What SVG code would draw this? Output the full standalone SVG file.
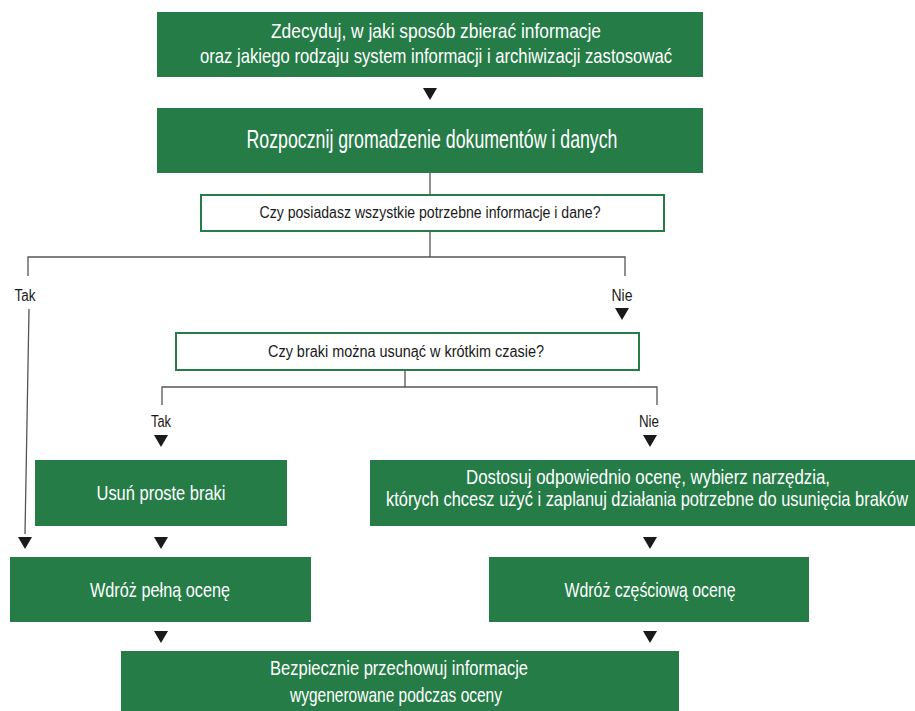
<svg xmlns="http://www.w3.org/2000/svg" width="915" height="711" viewBox="0 0 915 711">
<style>
.box{fill:#257c47}
.q{fill:#fff;stroke:#257c47;stroke-width:2}
.t{font-family:"Liberation Sans","DejaVu Sans",sans-serif;fill:#fff;text-anchor:middle}
.d{font-family:"Liberation Sans","DejaVu Sans",sans-serif;fill:#1a1a1a;text-anchor:middle}
.ln{stroke:#555;stroke-width:1.3;fill:none}
.ar{fill:#1a1a1a}
</style>
<defs>
<path id="tri" d="M-7,0 L7,0 L0,12 Z"/>
</defs>
<g id="n1"><rect class="box" x="157" y="12" width="546" height="65"/>
<text class="t" font-size="21" x="436" y="38" textLength="330" lengthAdjust="spacingAndGlyphs">Zdecyduj, w jaki sposób zbierać informacje</text>
<text class="t" font-size="21" x="436" y="63" textLength="472" lengthAdjust="spacingAndGlyphs">oraz jakiego rodzaju system informacji i archiwizacji zastosować</text></g>
<g id="n2"><rect class="box" x="157" y="108" width="546" height="65"/>
<text class="t" font-size="25" x="432" y="148" textLength="371" lengthAdjust="spacingAndGlyphs">Rozpocznij gromadzenie dokumentów i danych</text></g>
<g id="n3"><rect class="q" x="201" y="195" width="463" height="36"/>
<text class="d" font-size="16" x="430" y="218" textLength="341" lengthAdjust="spacingAndGlyphs">Czy posiadasz wszystkie potrzebne informacje i dane?</text></g>
<g id="n4"><rect class="q" x="176" y="333" width="463" height="37"/>
<text class="d" font-size="16" x="406" y="357" textLength="276" lengthAdjust="spacingAndGlyphs">Czy braki można usunąć w krótkim czasie?</text></g>
<g id="n5"><rect class="box" x="35" y="460" width="252" height="66"/>
<text class="t" font-size="21" x="161" y="500" textLength="129" lengthAdjust="spacingAndGlyphs">Usuń proste braki</text></g>
<g id="n6"><rect class="box" x="370" y="460" width="545" height="66"/>
<text class="t" font-size="21" x="648" y="484" textLength="364" lengthAdjust="spacingAndGlyphs">Dostosuj odpowiednio ocenę, wybierz narzędzia,</text>
<text class="t" font-size="21" x="647" y="506" textLength="522" lengthAdjust="spacingAndGlyphs">których chcesz użyć i zaplanuj działania potrzebne do usunięcia braków</text></g>
<g id="n7"><rect class="box" x="10" y="557" width="301" height="65"/>
<text class="t" font-size="21" x="160" y="597" textLength="140" lengthAdjust="spacingAndGlyphs">Wdróż pełną ocenę</text></g>
<g id="n8"><rect class="box" x="489" y="557" width="320" height="65"/>
<text class="t" font-size="21" x="650" y="597" textLength="171" lengthAdjust="spacingAndGlyphs">Wdróż częściową ocenę</text></g>
<g id="n9"><rect class="box" x="121" y="651" width="558" height="60"/>
<text class="t" font-size="21" x="399" y="675" textLength="258" lengthAdjust="spacingAndGlyphs">Bezpiecznie przechowuj informacje</text>
<text class="t" font-size="21" x="396" y="702" textLength="212" lengthAdjust="spacingAndGlyphs">wygenerowane podczas oceny</text></g>
<g id="connectors">
<path class="ln" d="M430,173 V195 M430,231 V257 M28,276 V257 H625 V276 M29,309 L25,534 M405,370 V387 M162,405 V387 H657 V405"/>
<text class="d" font-size="16" x="25" y="301" textLength="21" lengthAdjust="spacingAndGlyphs">Tak</text>
<text class="d" font-size="16" x="622" y="301" textLength="21" lengthAdjust="spacingAndGlyphs">Nie</text>
<text class="d" font-size="16" x="161" y="427" textLength="20" lengthAdjust="spacingAndGlyphs">Tak</text>
<text class="d" font-size="16" x="649" y="427" textLength="20" lengthAdjust="spacingAndGlyphs">Nie</text>
<use class="ar" href="#tri" x="430" y="88"/>
<use class="ar" href="#tri" x="622" y="308"/>
<use class="ar" href="#tri" x="161" y="435"/>
<use class="ar" href="#tri" x="650" y="435"/>
<use class="ar" href="#tri" x="25" y="537"/>
<use class="ar" href="#tri" x="161" y="537"/>
<use class="ar" href="#tri" x="650" y="537"/>
<use class="ar" href="#tri" x="161" y="631"/>
<use class="ar" href="#tri" x="650" y="631"/>
</g>
</svg>
